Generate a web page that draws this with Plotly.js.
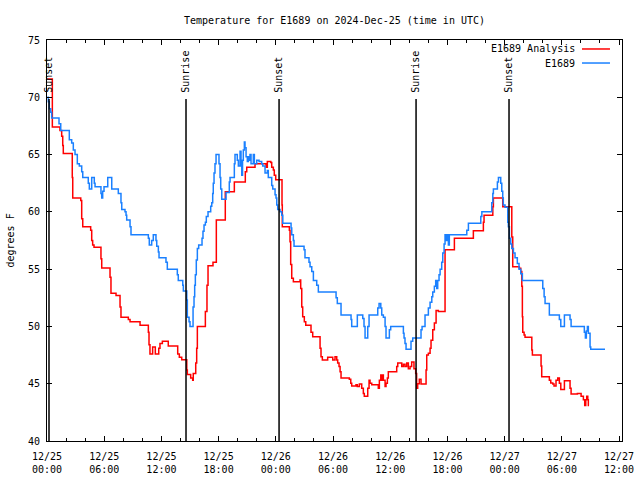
<!DOCTYPE html>
<html>
<head>
<meta charset="utf-8">
<script src="https://cdn.plot.ly/plotly-3.0.1.min.js"></script>
<style>html,body{margin:0;padding:0;background:#fff;}#chart{width:640px;height:480px;}</style>
</head>
<body>
<div id="chart"></div>
<script>
// Hours since 2024-12-25 00:00 UTC
const obsHours = [0.03,0.14,0.24,0.39,0.49,1.26,1.44,2.34,2.59,2.76,2.94,3.18,3.39,3.64,3.75,4.33,4.44,4.69,4.96,5.04,5.66,5.74,5.84,5.98,6.37,6.79,7.48,7.76,7.84,8.18,8.29,8.36,8.71,8.81,10.63,10.73,10.98,11.15,11.43,11.51,11.68,11.75,12.48,12.62,13.67,13.77,14.24,14.30,14.66,14.72,14.90,15.00,15.32,15.42,15.49,15.56,15.66,15.77,15.91,16.26,16.36,16.47,16.61,16.71,16.89,17.17,17.28,17.38,17.44,17.52,17.62,17.73,18.04,18.15,18.22,18.33,18.78,19.12,19.20,19.65,19.72,19.96,20.07,20.25,20.35,20.43,20.51,20.59,20.70,20.77,20.88,21.01,21.12,21.19,21.29,21.40,21.64,21.75,22.00,22.24,22.52,22.63,22.87,23.11,23.21,23.57,23.68,23.92,24.02,24.10,24.20,24.44,24.62,24.73,25.60,25.67,25.84,25.91,26.96,27.06,27.48,27.59,27.77,27.94,28.29,28.46,30.32,30.45,30.84,31.89,31.96,32.55,33.12,33.25,33.36,33.64,33.78,34.69,34.83,35.01,35.11,35.28,35.46,35.56,35.91,36.05,37.38,37.45,37.55,37.66,38.18,38.36,39.23,39.34,39.65,40.00,40.18,40.36,40.46,40.63,40.77,40.88,40.98,41.12,41.23,41.40,41.51,41.65,41.75,41.86,41.96,42.10,42.20,44.03,44.20,45.50,45.61,46.65,46.76,46.82,47.24,47.35,47.59,47.70,47.80,47.86,48.04,48.33,48.39,48.50,48.64,48.75,48.92,49.09,49.33,49.51,49.69,49.86,52.00,52.14,52.24,52.69,53.74,53.89,54.27,54.86,54.97,56.36,56.47,56.57,56.68,56.78,56.96,57.03,58.53];
const obsTemp = [70,69.6,69,68.7,68.2,67.7,67.1,66.3,66,65.4,65,64.2,64,63.5,63,62.5,62,63,62.5,62.2,61.6,61.2,61.8,62.2,63,62,61.6,60.8,60.2,60,59.7,59.3,58.7,58,57.7,57.1,57.5,58,57.5,57,56.5,56,55.6,55,54.5,54,53.6,53.1,52.3,50.8,50.4,50,51.7,52.6,53.6,54.5,55.8,56.8,57.1,57.7,58.3,58.85,59.1,59.6,60,60.5,60.8,61.6,62.5,63.4,64.2,65,64.2,63,62,61.1,61.7,62.6,63,64.2,65,64.5,64,65.3,64,63.2,64.5,65.4,66.1,65.6,64.8,64.4,64.8,64.5,65,64.2,65,64.2,64.5,64.4,64.2,64,63.4,63.6,63,62.3,62,61.5,61.2,60.6,60.2,60,59.7,59,58.6,58,57.5,57,56.7,56,55.6,55.2,54.8,54,53.6,53,52.5,52,51,50.6,50,51,50.7,50,49,50,51,51.6,52,51.6,51,50.8,50,49,49.7,50,49.4,49,48.5,48,48.7,49,49.7,50,51,51.6,52.1,52.6,53,53.5,54,53.3,54,54.5,55,55.6,56.4,57.2,58,57.5,58,57.1,58,58.4,59,59.6,60,60.8,61.6,62,62.6,63,62.5,61.8,61.2,60.6,60.4,59.1,58.7,57.7,57.2,56.8,56.4,56,55.5,55,54.6,54,53.3,52.6,52,51,50.6,50,51,50.6,50,49.5,49,49.6,50,49.4,48.2,48,48];

const anaHours = [0.03,0.56,1.36,1.54,1.65,1.71,2.65,2.70,3.54,3.64,3.75,4.58,4.69,4.79,4.93,5.66,5.74,6.61,6.71,7.24,7.66,7.76,8.53,8.71,9.76,10.63,10.70,10.80,11.08,11.36,11.72,11.85,12.10,12.72,13.71,13.88,14.13,14.66,14.72,15.07,15.28,15.34,15.60,15.70,15.77,16.61,16.78,16.89,17.41,17.76,18.70,19.65,20.80,20.95,21.82,22.97,23.11,23.47,23.57,23.74,23.84,23.99,24.65,24.68,25.42,25.49,25.56,25.67,25.84,26.54,26.61,26.72,26.82,26.99,27.14,27.69,27.87,28.64,28.74,28.88,29.44,29.97,30.21,30.39,30.49,30.63,30.74,30.84,31.71,31.86,31.96,32.41,32.55,32.76,33.01,33.18,33.28,33.64,33.78,33.88,34.06,34.75,34.86,35.01,35.11,35.22,35.28,35.46,35.56,35.70,35.80,36.68,36.79,37.21,37.38,37.55,37.73,37.90,38.08,38.25,38.49,38.67,38.77,38.88,39.05,39.23,39.76,39.83,40.00,40.18,40.28,40.46,40.63,40.81,41.05,41.75,42.73,44.72,45.77,45.84,46.76,46.82,47.80,48.75,48.85,49.54,49.69,49.80,49.86,49.90,50.04,50.14,50.85,50.91,51.82,51.89,52.69,52.84,53.05,53.18,53.39,53.57,53.74,53.89,54.27,54.86,54.97,55.63,56.02,56.26,56.40,56.51,56.61,56.72,56.78,56.85];
const anaTemp = [71.6,67.4,67.1,66.6,65.8,65.1,63,61.2,61,59.4,58.7,58.4,57.5,57.1,56.9,55.9,55.1,54.3,52.9,52.7,51.7,50.8,50.6,50.4,50.1,49.5,48.4,47.6,48.2,47.6,48.1,48.5,48.7,48.3,47.6,47.3,47.1,46.2,45.8,45.5,45.3,45.9,46.8,48.1,50,51.3,53.6,55.3,55.6,59.3,61.75,62.6,63.5,63.9,64.2,63.9,64.4,64.3,63.9,63.65,63.2,62.8,60.6,58.7,58.4,57.4,55.4,54.2,53.9,54.05,53.3,51.7,50.85,50.4,50.1,49.5,49.1,48.1,47.35,47.07,47.3,47.07,47.35,47.07,46.8,46.5,46.05,45.5,45.4,45.03,44.8,44.9,44.75,44.97,44.6,44.15,43.9,44.6,45.3,45.03,44.9,44.6,45.3,45.76,45.3,45.76,45.3,44.75,45.03,45.5,46.05,46.5,46.8,46.5,46.7,46.5,46.8,46.3,46.5,46.9,46.3,45.9,44.6,45,45.4,44.97,46.2,47.5,47.65,48.1,48.8,49.7,50.3,51.4,51.3,56.7,57.7,58.35,59.1,59.7,60.45,61.2,60.45,57.8,55.2,55.07,54.8,53.5,50.85,49.5,49.25,49.05,47.94,47.5,46.55,45.6,45.3,45.07,44.97,44.8,45.3,45.5,45.03,44.5,45.25,44.6,44.1,44.15,43.9,43.6,43.1,43.6,43.9,43.6,43.1,43.1];

const sunEventHours = [0.21, 14.58, 24.34, 38.71, 48.46];
const sunEventNames = ["Sunset", "Sunrise", "Sunset", "Sunrise", "Sunset"];

const xTickVals = [0,6,12,18,24,30,36,42,48,54,60];
const xTickText = ["12/25<br>00:00","12/25<br>06:00","12/25<br>12:00","12/25<br>18:00","12/26<br>00:00","12/26<br>06:00","12/26<br>12:00","12/26<br>18:00","12/27<br>00:00","12/27<br>06:00","12/27<br>12:00"];
const yTickVals = [40,45,50,55,60,65,70,75];

const seriesNames = ["E1689 Analysis", "E1689"];
const seriesColors = ["#ff0000", "#1a80ff"];

const FONT = {family: "DejaVu Sans Mono, monospace", size: 10, color: "#000"};

const traces = [
  {x: anaHours, y: anaTemp, name: seriesNames[0], type: "scatter", mode: "lines",
   line: {color: seriesColors[0], width: 1.5, shape: "hv"}, showlegend: false},
  {x: obsHours, y: obsTemp, name: seriesNames[1], type: "scatter", mode: "lines",
   line: {color: seriesColors[1], width: 1.5, shape: "hv"}, showlegend: false}
];

const shapes = [];
const annotations = [];
sunEventHours.forEach((h, i) => {
  shapes.push({type: "line", xref: "x", yref: "paper", x0: h, x1: h, y0: 0, y1: 0.853,
    line: {color: "#000", width: 1.5}});
  annotations.push({xref: "x", yref: "paper", x: h, y: 0.866, text: sunEventNames[i],
    textangle: -90, showarrow: false, xanchor: "center", yanchor: "bottom", font: FONT, borderpad: 0});
});
// Legend (gnuplot style: text right-aligned, sample to the right)
const legendY = [0.9776, 0.9426];
seriesNames.forEach((n, i) => {
  annotations.push({xref: "paper", yref: "paper", x: 0.921, y: legendY[i], text: n,
    showarrow: false, xanchor: "right", yanchor: "middle", font: FONT});
  shapes.push({type: "line", xref: "paper", yref: "paper", x0: 0.9304, x1: 0.9791,
    y0: legendY[i], y1: legendY[i], line: {color: seriesColors[i], width: 1.5}});
});
annotations.push({xref: "paper", yref: "paper", x: -0.0643, y: 0.5, text: "degrees F",
  textangle: -90, showarrow: false, xanchor: "center", yanchor: "middle", font: FONT});

const layout = {
  width: 640, height: 480,
  margin: {l: 47, r: 18, t: 40, b: 39, pad: 0},
  paper_bgcolor: "#fff", plot_bgcolor: "#fff",
  font: FONT,
  showlegend: false,
  title: {text: "Temperature for E1689 on 2024-Dec-25 (time in UTC)", font: FONT,
    x: 0.5, xref: "paper", xanchor: "center", y: 0.958, yref: "container", yanchor: "middle"},
  xaxis: {range: [0, 60.31], tickmode: "array", tickvals: xTickVals, ticktext: xTickText,
    showgrid: false, zeroline: false, showline: true, linecolor: "#000", linewidth: 1,
    mirror: "ticks", ticks: "inside", ticklen: 5, tickcolor: "#000", tickwidth: 1,
    ticklabelstandoff: 6,
    minor: {tickmode: "linear", tick0: 0, dtick: 2, ticks: "inside", ticklen: 3, tickcolor: "#000", showgrid: false},
    tickfont: FONT, fixedrange: true},
  yaxis: {range: [40, 75], tickmode: "array", tickvals: yTickVals,
    showgrid: false, zeroline: false, showline: true, linecolor: "#000", linewidth: 1,
    mirror: "ticks", ticks: "inside", ticklen: 5, tickcolor: "#000", tickwidth: 1,
    ticklabelstandoff: 4,
    tickfont: FONT, fixedrange: true},
  shapes: shapes,
  annotations: annotations
};

Plotly.newPlot("chart", traces, layout, {displayModeBar: false, staticPlot: true});
</script>
</body>
</html>
